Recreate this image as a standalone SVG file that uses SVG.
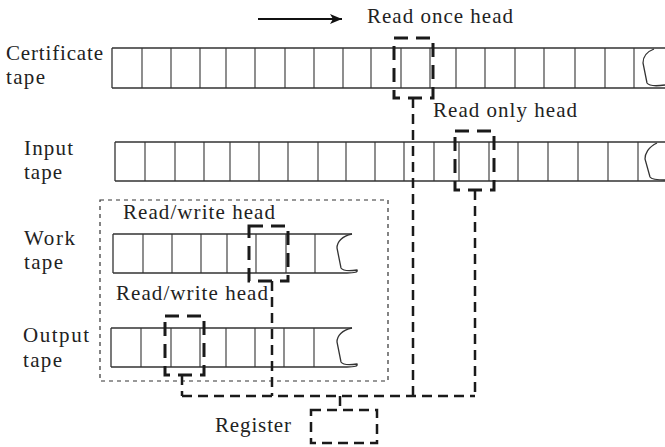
<svg xmlns="http://www.w3.org/2000/svg" width="665" height="447" viewBox="0 0 665 447">
<defs>
<marker id="ah" viewBox="0 0 12 10" refX="12" refY="5" markerWidth="12" markerHeight="10" markerUnits="userSpaceOnUse" orient="auto">
<path d="M0,0 L12,5 L0,10 L3,5 Z" fill="#111"/>
</marker>
</defs>
<style>
text{font-family:"Liberation Serif","Times New Roman",serif;font-size:21px;fill:#222}
.tape{fill:none;stroke:#333;stroke-width:1.3}
.cell{stroke:#333;stroke-width:1.1}
.head{fill:none;stroke:#1a1a1a;stroke-width:3;stroke-dasharray:14 8}
.conn{fill:none;stroke:#1a1a1a;stroke-width:2.5;stroke-dasharray:10 6}
.dot{fill:none;stroke:#333;stroke-width:1.2;stroke-dasharray:4 4}
</style>
<rect width="665" height="447" fill="#fff"/>

<g id="direction">
<line x1="258" y1="19" x2="342" y2="19" stroke="#111" stroke-width="2.2" marker-end="url(#ah)"/>
<text x="367" y="23" textLength="146">Read once head</text>
</g>

<g id="certificate-tape">
<text x="6" y="60" textLength="97">Certificate</text>
<text x="6" y="84" textLength="39">tape</text>
<path class="tape" d="M112,48 H665 M112,88 H665 M112,48 V88"/>
<path class="cell" d="M142,48V88 M171,48V88 M200,48V88 M226,48V88 M255,48V88 M285,48V88 M314,48V88 M343,48V88 M371,48V88 M401,48V88 M430,48V88 M456,48V88 M485,48V88 M515,48V88 M544,48V88 M575,48V88 M605,48V88 M634,48V88"/>
<path class="tape" d="M654,49 C646,52 643,58 643,63 L647,83 C649,86 658,86 665,85"/>
</g>

<g id="input-tape">
<text x="24" y="155" textLength="49">Input</text>
<text x="24" y="179" textLength="38">tape</text>
<path class="tape" d="M115,142 H665 M115,181 H665 M115,142 V181"/>
<path class="cell" d="M145,142V181 M175,142V181 M204,142V181 M230,142V181 M259,142V181 M288,142V181 M318,142V181 M346,142V181 M375,142V181 M404,142V181 M434,142V181 M459,142V181 M489,142V181 M518,142V181 M548,142V181 M578,142V181 M608,142V181 M638,142V181"/>
<path class="tape" d="M657,143 C648,147 645,154 645,159 L650,177 C652,180 660,180 665,180"/>
</g>

<g id="worker">
<rect class="dot" x="100" y="200" width="288" height="181"/>
</g>

<g id="work-tape">
<text x="24" y="245" textLength="51">Work</text>
<text x="24" y="269" textLength="39">tape</text>
<path class="tape" d="M113,234 H352 M113,273 H347 M113,234 V273"/>
<path class="cell" d="M143,234V273 M172,234V273 M201,234V273 M227,234V273 M256,234V273 M286,234V273 M315,234V273"/>
<path class="tape" d="M352,234 C342,236 337,242 337,248 L341,268 C343,271 350,271 357,270 C358,272 355,273 347,273"/>
</g>

<g id="output-tape">
<text x="23" y="342" textLength="66">Output</text>
<text x="23" y="367" textLength="39">tape</text>
<path class="tape" d="M111,328 H352 M111,367 H347 M111,328 V367"/>
<path class="cell" d="M141,328V367 M171,328V367 M200,328V367 M226,328V367 M255,328V367 M284,328V367 M314,328V367"/>
<path class="tape" d="M352,328 C342,330 337,336 337,342 L341,362 C343,365 350,365 357,364 C358,366 355,367 347,367"/>
</g>

<g id="read-once-head">
<rect class="head" x="394" y="38" width="39" height="60"/>
</g>

<g id="read-only-head">
<text x="433" y="117" textLength="144">Read only head</text>
<rect class="head" x="455" y="131" width="39" height="59"/>
</g>

<g id="work-head">
<text x="123" y="219" textLength="152">Read/write head</text>
<rect class="head" x="249" y="226" width="39" height="55"/>
</g>

<g id="output-head">
<text x="116" y="300" textLength="152">Read/write head</text>
<rect class="head" x="165" y="316" width="39" height="59"/>
</g>

<g id="register">
<text x="215" y="432" textLength="76">Register</text>
<rect class="conn" x="311" y="410" width="66" height="33"/>
</g>

<g id="connectors">
<path class="conn" d="M413,98 V396"/>
<path class="conn" d="M475,190 V396"/>
<path class="conn" d="M272,281 V396"/>
<path class="conn" d="M182,375 V396"/>
<path class="conn" d="M182,396 H475"/>
<path class="conn" d="M340,396 V410"/>
</g>
</svg>
